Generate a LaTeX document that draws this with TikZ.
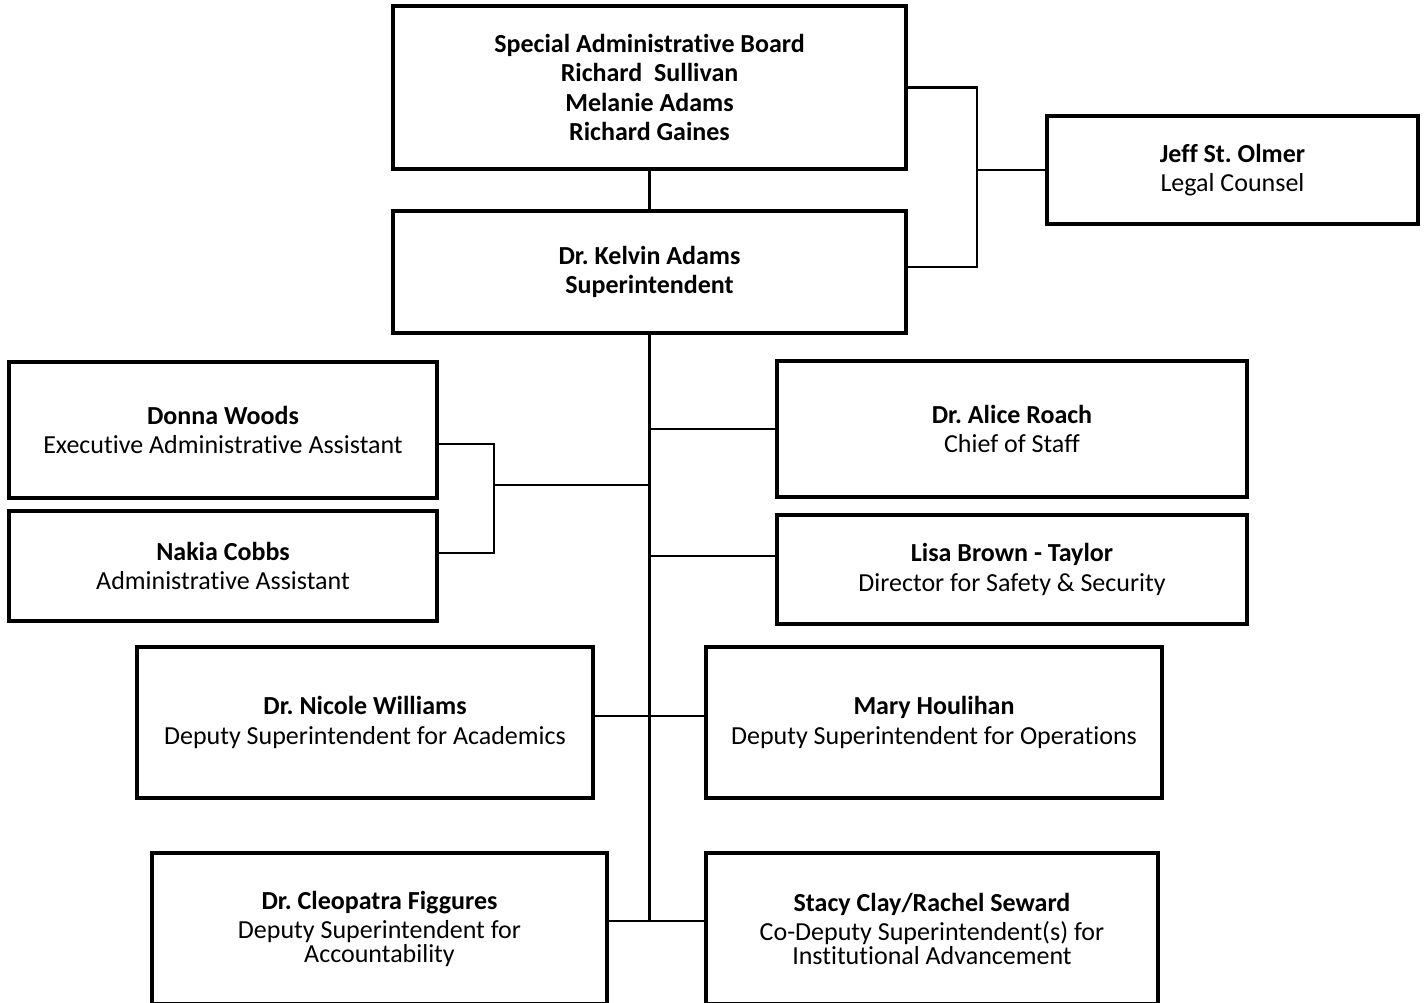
\documentclass[tikz,border=0pt]{standalone}
\usepackage{fontspec}
\setmainfont{Carlito}[Ligatures=NoCommon]
\frenchspacing

\begin{document}
\begin{tikzpicture}[
      x=0.02cm, y=-0.02cm,
      box/.style={draw, line width=2pt, align=center, inner sep=0pt,
        font=\fontsize{14.8}{16.6}\selectfont},
      link/.style={draw, line width=1.3pt}]
  \useasboundingbox (0,0) rectangle (1427,1002);
  \clip (0,0) rectangle (1427,1002);
  % board, superintendent and counsel
  \node[box, minimum width=10.26cm, minimum height=3.26cm] (board) at (649.5,87.5)
    {\textbf{Special Administrative Board}\\ \textbf{Richard~~Sullivan}\\
     \textbf{Melanie Adams}\\ \textbf{Richard Gaines}};
  \node[box, minimum width=10.26cm, minimum height=2.44cm] (supt) at (649.5,272)
    {\textbf{Dr. Kelvin Adams}\\ \textbf{Superintendent}};
  \node[box, minimum width=7.42cm, minimum height=2.16cm] (legal) at (1232.5,170)
    {\textbf{Jeff St. Olmer}\\ Legal Counsel};
  % staff reporting to the superintendent
  \node[box, minimum width=8.56cm, minimum height=2.72cm] (donna) at (223,430)
    {\textbf{Donna Woods}\\ Executive Administrative Assistant};
  \node[box, minimum width=8.56cm, minimum height=2.2cm] (nakia) at (223,566)
    {\textbf{Nakia Cobbs}\\ Administrative Assistant};
  \node[box, minimum width=9.4cm, minimum height=2.72cm] (alice) at (1012,429)
    {\textbf{Dr. Alice Roach}\\ Chief of Staff};
  \node[box, minimum width=9.4cm, minimum height=2.18cm] (lisa) at (1012,569.5)
    {\textbf{Lisa Brown - Taylor}\\ Director for Safety \& Security};
  % deputies
  \node[box, minimum width=9.12cm, minimum height=3.02cm] (nicole) at (365,722.5)
    {\textbf{Dr. Nicole Williams}\\ Deputy Superintendent for Academics};
  \node[box, minimum width=9.12cm, minimum height=3.02cm] (mary) at (934,722.5)
    {\textbf{Mary Houlihan}\\ Deputy Superintendent for Operations};
  \node[box, minimum width=9.1cm, minimum height=3.02cm] (cleo) at (379.5,928.5)
    {\textbf{Dr. Cleopatra Figgures}\\ Deputy Superintendent for\\[-3pt] Accountability};
  \node[box, minimum width=9.04cm, minimum height=3.02cm] (stacy) at (932,928.5)
    {\textbf{Stacy Clay/Rachel Seward}\\ Co-Deputy Superintendent(s) for\\[-3pt]
     Institutional Advancement};
  % junction points on the lines
  \coordinate (counseljoin) at (977,170);
  \coordinate (suptjoin) at (977,267);
  \coordinate (asstjoin) at (494,485);
  \coordinate (donnajoin) at (494,444);
  \coordinate (nakiajoin) at (494,553);
  \coordinate (lisajoin) at (649.5,556);
  \coordinate (deputyjoin) at (649.5,716);
  \coordinate (trunkend) at (649.5,921);
  \path[link] (board) -- (supt);
  \path[link] (board.east) -| (counseljoin) -- (suptjoin) -- (suptjoin -| supt.east);
  \path[link] (counseljoin) -- (legal.west);
  \path[link] (supt.south) -- (trunkend);
  \path[link] (alice.west) -- (alice.west -| trunkend);
  \path[link] (lisajoin) -- (lisajoin -| lisa.west);
  \path[link] (asstjoin -| trunkend) -- (asstjoin);
  \path[link] (donnajoin -| donna.east) -- (donnajoin) -- (nakiajoin) -- (nakiajoin -| nakia.east);
  \path[link] (deputyjoin -| nicole.east) -- (deputyjoin -| mary.west);
  \path[link] (trunkend -| cleo.east) -- (trunkend -| stacy.west);
\end{tikzpicture}
\end{document}
